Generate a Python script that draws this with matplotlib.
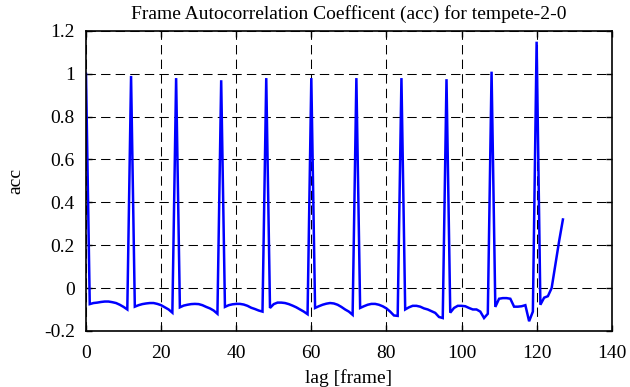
#!/usr/bin/env python3
import matplotlib
matplotlib.use("Agg")
import matplotlib.pyplot as plt
import numpy as np

# frame autocorrelation values, lag 0..127
lags = np.arange(128)
acc = [
    1.0, -0.075, -0.07, -0.068, -0.065, -0.063, -0.063, -0.066, -0.07, -0.078, -0.088, -0.1,
    0.99, -0.087, -0.08, -0.075, -0.072, -0.07, -0.07, -0.074, -0.08, -0.09, -0.1, -0.115,
    0.98, -0.09, -0.082, -0.078, -0.075, -0.074, -0.075, -0.08, -0.088, -0.095, -0.105, -0.12,
    0.97, -0.088, -0.08, -0.076, -0.074, -0.074, -0.077, -0.083, -0.092, -0.098, -0.105, -0.11,
    0.98, -0.093, -0.075, -0.068, -0.068, -0.07, -0.075, -0.082, -0.09, -0.1, -0.11, -0.122,
    0.98, -0.093, -0.085, -0.078, -0.073, -0.07, -0.072, -0.078, -0.088, -0.1, -0.11, -0.125,
    0.98, -0.093, -0.085, -0.078, -0.074, -0.074, -0.078, -0.085, -0.095, -0.11, -0.128, -0.13,
    0.98, -0.1, -0.09, -0.083, -0.083, -0.087, -0.095, -0.1, -0.108, -0.116, -0.135, -0.14,
    0.975, -0.115, -0.093, -0.083, -0.083, -0.085, -0.093, -0.1, -0.1, -0.11, -0.14, -0.12,
    1.01, -0.088, -0.05, -0.047, -0.047, -0.05, -0.087, -0.087, -0.085, -0.08, -0.155, -0.11,
    1.15, -0.078, -0.045, -0.038, 0.0, 0.11, 0.22, 0.32,
]

xTicks = [0, 20, 40, 60, 80, 100, 120, 140]
yTicks = [-0.2, 0, 0.2, 0.4, 0.6, 0.8, 1, 1.2]
yTickLabels = ["-0.2", "0", "0.2", "0.4", "0.6", "0.8", "1", "1.2"]

plt.rcParams["font.family"] = ["Liberation Serif", "DejaVu Serif"]

fig = plt.figure(figsize=(6.3, 3.87), dpi=100)
ax = fig.add_axes([0.1365, 0.145, 0.8345, 0.775])

ax.plot(lags, acc, color="#0000ff", linewidth=1.8, solid_joinstyle="miter")

ax.set_xlim(0, 140)
ax.set_ylim(-0.2, 1.2)
ax.set_xticks(xTicks)
ax.set_xticklabels([str(t) for t in xTicks])
ax.set_yticks(yTicks)
ax.set_yticklabels(yTickLabels)

ax.grid(True, color="black", linewidth=0.75, linestyle=(0, (9, 5)))
ax.tick_params(direction="in", length=4.5, width=1, top=True, right=True,
               labelsize=14, pad=8)
ax.tick_params(axis="x", pad=10)
for s in ax.spines.values():
    s.set_linewidth(1.2)

ax.set_title("Frame Autocorrelation Coefficent (acc) for tempete-2-0", fontsize=14, pad=9)
ax.set_xlabel("lag [frame]", fontsize=14, labelpad=5)
ax.set_ylabel("acc", fontsize=14, labelpad=14)

fig.savefig("out.png", dpi=100)
